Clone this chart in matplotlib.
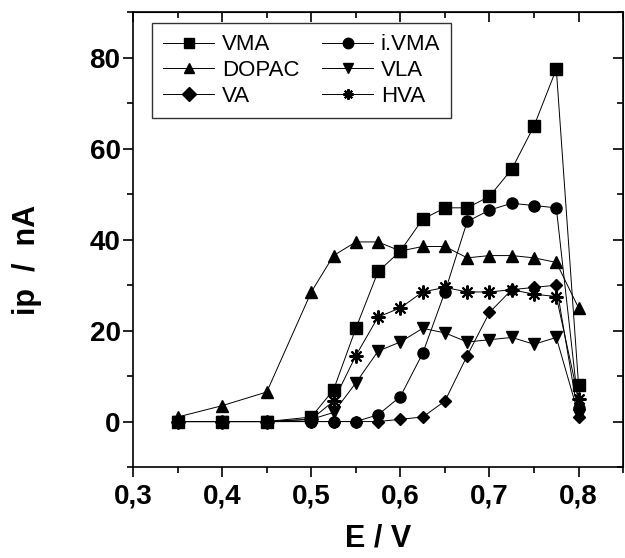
import matplotlib
matplotlib.use("Agg")
import matplotlib.pyplot as plt
from matplotlib.ticker import MultipleLocator, FuncFormatter

plt.rcParams["font.family"] = ["Liberation Sans", "DejaVu Sans"]

# Potential steps (V)
E_V = [0.35, 0.40, 0.45, 0.50, 0.525, 0.55, 0.575, 0.60, 0.625, 0.65,
       0.675, 0.70, 0.725, 0.75, 0.775, 0.80]

# Peak currents (nA) for each analyte
vma = [0, 0, 0, 1, 7, 20.5, 33, 37.5, 44.5, 47, 47, 49.5, 55.5, 65, 77.5, 8]
ivma = [0, 0, 0, 0, 0, 0, 1.5, 5.5, 15, 28.5, 44, 46.5, 48, 47.5, 47, 3]
dopac = [1, 3.5, 6.5, 28.5, 36.5, 39.5, 39.5, 37.5, 38.5, 38.5, 36, 36.5,
         36.5, 36, 35, 25]
vla = [0, 0, 0, 0.5, 2, 8.5, 15.5, 17.5, 20.5, 19.5, 17.5, 18, 18.5, 17,
       18.5, 1.5]
va = [0, 0, 0, 0, 0, 0, 0, 0.5, 1, 4.5, 14.5, 24, 29, 29.5, 30, 1]
hva = [0, 0, 0, 0.5, 4.5, 14.5, 23, 25, 28.5, 29.5, 28.5, 28.5, 29, 28,
       27.5, 5]

STAR = (8, 2, 0)
series = [
    ("VMA", vma, "s", 8),
    ("i.VMA", ivma, "o", 8),
    ("DOPAC", dopac, "^", 8.5),
    ("VLA", vla, "v", 8.5),
    ("VA", va, "D", 6.5),
    ("HVA", hva, STAR, 10),
]

fig = plt.figure(figsize=(6.25, 5.58), dpi=100)
ax = fig.add_axes([0.213, 0.163, 0.784, 0.815])

handles = {}
for name, vals, mk, ms in series:
    (ln,) = ax.plot(E_V, vals, color="black", linewidth=0.7, marker=mk,
                    markersize=ms, markeredgewidth=1.5 if mk == STAR else 1.0,
                    label=name)
    handles[name] = ln

ax.set_xlim(0.3, 0.85)
ax.set_ylim(-10, 90)
ax.xaxis.set_major_locator(MultipleLocator(0.1))
ax.xaxis.set_minor_locator(MultipleLocator(0.05))
ax.yaxis.set_major_locator(MultipleLocator(20))
ax.yaxis.set_minor_locator(MultipleLocator(10))
ax.xaxis.set_major_formatter(FuncFormatter(lambda v, p: f"{v:.1f}".replace(".", ",")))

ax.tick_params(which="both", direction="out", top=False, right=False, width=1.2)
ax.tick_params(which="major", length=7, labelsize=20, pad=2)
ax.tick_params(axis="x", which="major", pad=5)
ax.tick_params(which="minor", length=4)
for lab in ax.get_xticklabels() + ax.get_yticklabels():
    lab.set_fontweight("bold")

# mirrored inward ticks on top and right
sec_x = ax.secondary_xaxis("top")
sec_x.xaxis.set_major_locator(MultipleLocator(0.1))
sec_x.xaxis.set_minor_locator(MultipleLocator(0.05))
sec_x.tick_params(which="both", direction="in", labeltop=False, width=1.2)
sec_x.tick_params(which="major", length=7)
sec_x.tick_params(which="minor", length=4)
sec_y = ax.secondary_yaxis("right")
sec_y.yaxis.set_major_locator(MultipleLocator(20))
sec_y.yaxis.set_minor_locator(MultipleLocator(10))
sec_y.tick_params(which="both", direction="in", labelright=False, width=1.2)
sec_y.tick_params(which="major", length=7)
sec_y.tick_params(which="minor", length=4)

for sp in ax.spines.values():
    sp.set_linewidth(1.2)

ax.set_xlabel("E / V", fontsize=22, fontweight="bold", labelpad=10)
ax.set_ylabel("ip  /  nA", fontsize=22, fontweight="bold")
ax.yaxis.set_label_coords(-0.185, 0.455)

# row-wise legend order: VMA i.VMA / DOPAC VLA / VA HVA
order = ["VMA", "DOPAC", "VA", "i.VMA", "VLA", "HVA"]
leg = ax.legend([handles[k] for k in order], order, ncol=2, loc="upper left",
                bbox_to_anchor=(0.039, 0.976), fontsize=16, frameon=True,
                fancybox=False, edgecolor="black", handlelength=2.3,
                columnspacing=1.0, handletextpad=0.35, borderpad=0.5,
                labelspacing=0.22, borderaxespad=0)
leg.get_frame().set_linewidth(1.0)
for h in leg.legend_handles:
    h.set_markersize(7.5)

fig.savefig("out.png", dpi=100)
